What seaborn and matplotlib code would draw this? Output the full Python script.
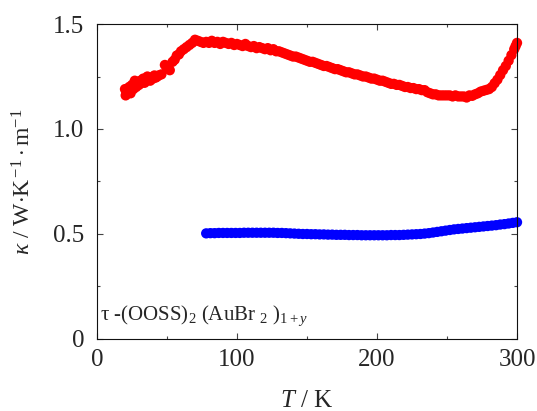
import numpy as np
import matplotlib
matplotlib.use("Agg")
import matplotlib.pyplot as plt
import pandas as pd
import seaborn as sns

# kappa(T) dla tau-(OOSS)2(AuBr2)1+y
T_red = [20, 20.5, 21, 22, 23, 24, 25, 26, 26.5, 27, 28, 29, 30, 31, 32, 33, 34, 35, 36, 37, 38, 39, 40, 41,
         42, 43, 44, 46, 48.5, 50, 52, 54, 55.5, 57, 58.5, 60, 62, 64, 66, 68, 70, 72, 74, 76, 78, 80,
         82, 84, 86, 88, 90, 92, 94, 96, 98, 100, 102, 104, 106, 108, 110, 112, 114, 116, 118, 120,
         122, 124, 126, 128, 130, 132, 134, 136, 138, 140, 142, 144, 146, 148, 150, 152, 154, 156, 158, 160,
         162, 164, 166, 168, 170, 172, 174, 176, 178, 180, 182, 184, 186, 188, 190, 192, 194, 196, 198, 200,
         202, 204, 206, 208, 210, 212, 214, 216, 218, 220, 222, 224, 226, 228, 230, 232, 234, 236, 238, 240,
         242, 244, 246, 248, 250, 252, 254, 256, 258, 260, 262, 264, 266, 268, 270, 272, 274, 276, 278, 280,
         282, 284, 286, 288, 290, 292, 294, 296, 298, 299, 300]
k_red = [1.19, 1.16, 1.175, 1.18, 1.20, 1.17, 1.21, 1.19, 1.215, 1.23, 1.20, 1.22, 1.21, 1.23, 1.22, 1.24, 1.22, 1.235, 1.25, 1.235, 1.23, 1.245, 1.24, 1.255,
         1.245, 1.25, 1.255, 1.26, 1.305, 1.29, 1.28, 1.32, 1.33, 1.35, 1.355, 1.37, 1.38, 1.39, 1.40, 1.41, 1.425, 1.42, 1.415, 1.41, 1.415, 1.41,
         1.42, 1.41, 1.415, 1.405, 1.415, 1.41, 1.405, 1.41, 1.40, 1.405, 1.40, 1.395, 1.405, 1.395, 1.39, 1.395, 1.385, 1.39, 1.385, 1.38,
         1.385, 1.375, 1.38, 1.37, 1.37, 1.365, 1.36, 1.355, 1.35, 1.345, 1.345, 1.34, 1.335, 1.33, 1.325, 1.32, 1.32, 1.315, 1.31, 1.305,
         1.30, 1.30, 1.295, 1.29, 1.285, 1.285, 1.28, 1.275, 1.27, 1.27, 1.265, 1.26, 1.26, 1.255, 1.25, 1.25, 1.245, 1.24, 1.24, 1.235,
         1.23, 1.23, 1.225, 1.22, 1.215, 1.215, 1.21, 1.21, 1.205, 1.20, 1.20, 1.195, 1.195, 1.19, 1.19, 1.185, 1.185, 1.175, 1.17, 1.165,
         1.165, 1.16, 1.16, 1.16, 1.16, 1.16, 1.155, 1.16, 1.155, 1.155, 1.155, 1.15, 1.16, 1.158, 1.165, 1.17, 1.178, 1.182, 1.186, 1.19,
         1.20, 1.218, 1.235, 1.257, 1.28, 1.30, 1.325, 1.352, 1.38, 1.395, 1.41]

T_blue = [78, 81, 84, 87, 90, 93, 96, 99, 102, 105, 108, 111, 114, 117, 120, 123, 126, 129, 132, 135,
          138, 141, 144, 147, 150, 153, 156, 159, 162, 165, 168, 171, 174, 177, 180, 183, 186, 189, 192, 195,
          198, 201, 204, 207, 210, 213, 216, 219, 222, 225, 228, 231, 234, 237, 240, 243, 246, 249, 252, 255,
          258, 261, 264, 267, 270, 273, 276, 279, 282, 285, 288, 291, 294, 297, 300]
k_blue = [0.503, 0.504, 0.504, 0.505, 0.505, 0.505, 0.505, 0.505, 0.505, 0.506, 0.506, 0.506, 0.506, 0.506, 0.506, 0.506, 0.506, 0.505, 0.505, 0.504,
          0.503, 0.502, 0.501, 0.500, 0.500, 0.499, 0.499, 0.498, 0.498, 0.497, 0.497, 0.496, 0.496, 0.496, 0.495, 0.495, 0.495, 0.494, 0.494, 0.494,
          0.494, 0.494, 0.494, 0.494, 0.495, 0.495, 0.495, 0.496, 0.497, 0.498, 0.499, 0.500, 0.502, 0.504, 0.507, 0.510, 0.513, 0.516, 0.519, 0.522,
          0.524, 0.526, 0.528, 0.530, 0.532, 0.534, 0.536, 0.538, 0.540, 0.542, 0.545, 0.547, 0.550, 0.553, 0.556]

x_ticks = [0, 100, 200, 300]
x_labels = ["0", "100", "200", "300"]
y_ticks = [0, 0.5, 1.0, 1.5]
y_labels = ["0", "0.5", "1.0", "1.5"]

df = pd.concat([
    pd.DataFrame({"T": T_red, "kappa": k_red, "s": "red"}),
    pd.DataFrame({"T": T_blue, "kappa": k_blue, "s": "blue"}),
])

sns.set_style("ticks")
plt.rcParams["font.family"] = ["Liberation Serif", "DejaVu Serif"]
plt.rcParams["mathtext.fontset"] = "custom"
plt.rcParams["mathtext.rm"] = "Liberation Serif"
plt.rcParams["mathtext.it"] = "Liberation Serif:italic"

fig = plt.figure(figsize=(5.37, 4.11), dpi=100)
ax = fig.add_axes([0.1806, 0.1752, 0.7822, 0.7664])

sns.scatterplot(data=df, x="T", y="kappa", hue="s",
                palette={"red": "#ff0000", "blue": "#0000ff"},
                s=55, linewidth=0, legend=False, ax=ax, clip_on=False)

ax.set_xlim(0, 300)
ax.set_ylim(0, 1.5)
ax.set_xticks(x_ticks)
ax.set_xticklabels(x_labels)
ax.set_yticks(y_ticks)
ax.set_yticklabels(y_labels)
ax.set_xticks([50, 150, 250], minor=True)
ax.set_yticks([0.25, 0.75, 1.25], minor=True)
ax.tick_params(which="both", direction="in", top=True, right=True,
               color="#444444", width=0.8, labelsize=18)
ax.tick_params(which="major", length=4.3)
ax.tick_params(which="minor", length=2.5)
ax.tick_params(axis="y", pad=9)
ax.tick_params(axis="x", pad=7)
for sp in ax.spines.values():
    sp.set_visible(True)
    sp.set_linewidth(0.8)
    sp.set_color("#111111")

ax.set_xlabel(r"$\mathit{T}$ / K", fontsize=18, labelpad=14)
ax.set_ylabel(r"$\kappa$ / W$\cdot$K$^{\,\mathrm{-1}}\cdot$m$^{\mathrm{-1}}$", fontsize=17, labelpad=13)

ax.text(0.008, 0.035, r"$\mathrm{\tau}$ -(OOSS)$_{2}$ (AuBr $_{2}$ )$_{1+\mathit{y}}$",
        transform=ax.transAxes, fontsize=15, ha="left", va="bottom")

fig.savefig("out.png", dpi=100)
